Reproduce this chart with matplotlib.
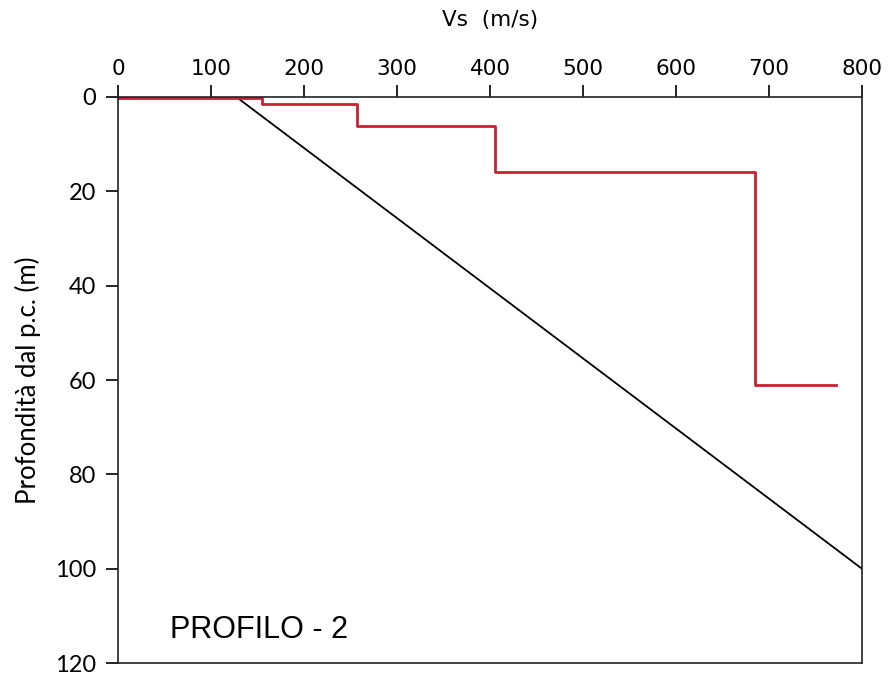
import numpy as np
import matplotlib
matplotlib.use("Agg")
import matplotlib.pyplot as plt

# profilo Vs a gradini (m/s, m)
vs_step = [0, 155, 155, 257, 257, 405, 405, 685, 685, 772]
z_step = [0.3, 0.3, 1.5, 1.5, 6.1, 6.1, 15.9, 15.9, 61.0, 61.0]

# retta di riferimento
vs_line = [127, 800]
z_line = [0, 100]

x_ticks = [0, 100, 200, 300, 400, 500, 600, 700, 800]
y_ticks = [0, 20, 40, 60, 80, 100, 120]


def main():
    fig = plt.figure(figsize=(8.96, 6.78), dpi=100)
    ax = fig.add_axes([0.132, 0.022, 0.830, 0.835])

    ax.plot(vs_line, z_line, color="black", lw=1.3)
    ax.plot(vs_step, z_step, color="#cc1f30", lw=2.0)

    ax.set_xlim(0, 800)
    ax.set_ylim(120, 0)
    ax.xaxis.tick_top()
    ax.xaxis.set_label_position("top")
    ax.set_xticks(x_ticks)
    ax.set_xticklabels([str(v) for v in x_ticks], family="DejaVu Sans", fontsize=15.5)
    ax.set_yticks(y_ticks)
    ax.set_yticklabels([str(v) for v in y_ticks], family="Lato", fontsize=17)
    ax.tick_params(axis="x", direction="out", length=9, width=1.2, pad=4)
    ax.tick_params(axis="y", direction="out", length=9, width=1.2, pad=7)
    for s in ax.spines.values():
        s.set_linewidth(1.2)
        s.set_color("#222222")

    ax.set_xlabel("Vs  (m/s)", fontsize=15.5, family="DejaVu Sans", labelpad=24)
    ax.set_ylabel("Profondità dal p.c. (m)", fontsize=18.5, family="Lato", labelpad=10)

    ax.text(56, 113, "PROFILO - 2", fontsize=22, family="Liberation Sans", va="center")

    fig.savefig("out.png", dpi=100)


if __name__ == "__main__":
    main()
